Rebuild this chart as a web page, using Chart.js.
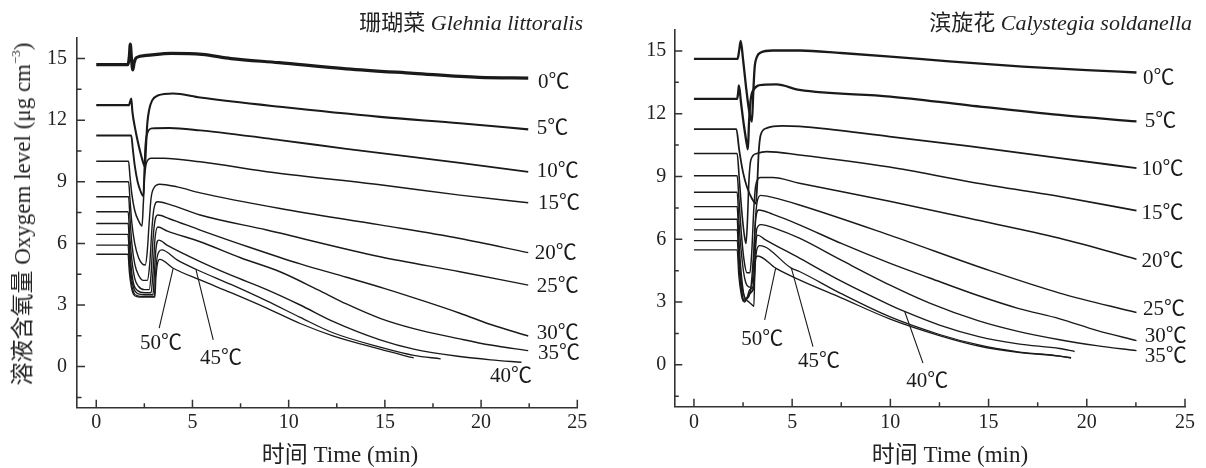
<!DOCTYPE html>
<html><head><meta charset="utf-8">
<script src="https://cdn.jsdelivr.net/npm/chart.js@4"></script>
<style>
html,body{margin:0;padding:0;background:#fff;}
body{width:1206px;height:468px;overflow:hidden;position:relative;font-family:'Liberation Serif','Noto Sans CJK SC',serif;color:#222;}
.panel{position:absolute;top:0;width:603px;height:468px;}
canvas{position:absolute;left:0;top:0;}
.txt{position:absolute;white-space:nowrap;font-size:22px;line-height:26px;}
.ax{font-size:23px;}
sup{font-size:13px;vertical-align:10px;line-height:0;}
</style></head><body>
<div class="panel" style="left:0"><canvas id="c1" width="603" height="468"></canvas></div>
<div class="panel" style="left:603px"><canvas id="c2" width="603" height="468"></canvas></div>
<div class="txt" style="right:623px;top:10px">珊瑚菜 <i>Glehnia littoralis</i></div>
<div class="txt" style="right:14px;top:10px">滨旋花 <i>Calystegia soldanella</i></div>
<div class="txt ax" style="left:340px;top:442px;transform:translateX(-50%)">时间 Time (min)</div>
<div class="txt ax" style="left:950px;top:442px;transform:translateX(-50%)">时间 Time (min)</div>
<div class="txt ax" style="left:23px;top:214px;transform:translate(-50%,-50%) rotate(-90deg)">溶液含氧量 Oxygem level (μg cm<sup>−3</sup>)</div>
<script>
// ---- axis ticks ----
const xMajor = [0,5,10,15,20,25];
const xMinor = [2.5,7.5,12.5,17.5,22.5];
const yMajor = [0,3,6,9,12,15];
const yMinor = [-1.5,1.5,4.5,7.5,10.5,13.5];
const temps = ['0℃','5℃','10℃','15℃','20℃','25℃','30℃','35℃','40℃','45℃','50℃'];

// ---- Glehnia littoralis (left) : [time min, O2 µg/cm3] ----
const gl0  = [[0,14.7],[1.65,14.7],[1.72,15.1],[1.77,15.7],[1.83,15.0],[1.9,14.45],[1.97,14.8],[2.1,15.05],[2.6,15.15],[3.9,15.25],[5.5,15.2],[7,15.0],[9.5,14.8],[13,14.5],[16.5,14.28],[19.9,14.08],[22.45,14.05]];
const gl5  = [[0,12.73],[1.7,12.73],[1.76,12.9],[1.82,13.05],[1.88,12.4],[2.0,11.7],[2.15,11.0],[2.3,10.4],[2.45,9.9],[2.53,9.73],[2.58,10.6],[2.65,11.8],[2.75,12.5],[2.9,12.95],[3.2,13.2],[4.0,13.3],[5.4,13.1],[9.55,12.65],[14.75,12.16],[18.9,11.85],[22.45,11.55]];
const gl10 = [[0,11.25],[1.82,11.25],[1.9,10.6],[2.0,9.8],[2.15,9.0],[2.3,8.55],[2.45,8.3],[2.5,9.5],[2.56,10.8],[2.65,11.35],[2.9,11.6],[3.8,11.62],[5.4,11.5],[9.55,11.03],[13,10.6],[16.5,10.2],[18.9,9.92],[22.45,9.48]];
const gl15 = [[0,10.0],[1.68,10.0],[1.75,9.3],[1.85,8.4],[2.0,7.6],[2.2,7.1],[2.38,6.85],[2.45,8.0],[2.52,9.3],[2.62,9.95],[2.85,10.15],[3.5,10.15],[5.4,9.97],[9.2,9.45],[14.75,8.85],[18.9,8.35],[22.45,7.98]];
const gl20 = [[0,9.0],[1.68,9.0],[1.75,8.2],[1.85,7.0],[2.0,6.0],[2.2,5.3],[2.4,5.0],[2.55,4.95],[2.65,5.6],[2.75,7.0],[2.85,8.2],[3.0,8.7],[3.3,8.88],[4.2,8.75],[5.4,8.46],[9.55,7.7],[14.75,6.9],[18.9,6.24],[22.45,5.55]];
const gl25 = [[0,8.27],[1.68,8.27],[1.75,7.3],[1.85,6.0],[2.0,5.0],[2.2,4.45],[2.45,4.2],[2.65,4.2],[2.78,5.0],[2.9,6.8],[3.0,7.7],[3.2,8.03],[3.8,7.9],[5.4,7.38],[8.86,6.65],[14.75,5.35],[18.9,4.62],[22.45,3.97]];
const gl30 = [[0,7.54],[1.66,7.54],[1.73,6.5],[1.85,5.2],[2.0,4.3],[2.2,3.9],[2.5,3.75],[2.75,3.75],[2.85,4.5],[2.95,6.2],[3.05,7.1],[3.2,7.38],[3.8,7.2],[5.4,6.65],[8,5.8],[10.6,5.0],[13,4.35],[15,3.8],[17,3.2],[18.9,2.6],[20.5,2.05],[22.45,1.49]];
const gl35 = [[0,6.97],[1.66,6.97],[1.72,6.0],[1.82,4.8],[1.95,4.0],[2.15,3.7],[2.5,3.6],[2.85,3.6],[2.95,4.6],[3.05,6.2],[3.2,6.8],[3.7,6.6],[5.4,6.08],[7.5,5.3],[9.55,4.62],[11.5,3.75],[13,3.05],[14.75,2.35],[16.5,1.85],[18.9,1.35],[20.5,1.05],[22.45,0.78]];
const gl40 = [[0,6.44],[1.65,6.44],[1.72,5.5],[1.82,4.4],[1.95,3.8],[2.15,3.55],[2.5,3.5],[2.95,3.5],[3.02,4.5],[3.1,5.7],[3.25,6.16],[3.7,5.9],[5.4,5.11],[7,4.45],[8.86,3.75],[10.6,3.0],[12.3,2.2],[14.75,1.3],[16.5,0.85],[18.9,0.49],[20.5,0.33],[22.1,0.21]];
const gl45 = [[0,5.92],[1.65,5.92],[1.72,5.0],[1.82,4.1],[1.95,3.6],[2.15,3.45],[2.5,3.42],[3.02,3.42],[3.08,4.5],[3.18,5.4],[3.4,5.68],[4.2,5.2],[5.18,4.74],[7,4.0],[8.86,3.2],[10.6,2.4],[12.3,1.65],[14.75,0.95],[16.5,0.55],[17.9,0.38]];
const gl50 = [[0,5.47],[1.65,5.47],[1.72,4.6],[1.82,3.9],[1.95,3.5],[2.15,3.4],[2.5,3.38],[3.05,3.38],[3.1,4.3],[3.18,5.0],[3.3,5.22],[4.0,4.79],[5.4,4.22],[7,3.6],[8.86,2.85],[10.6,2.1],[12.3,1.5],[14.75,0.85],[16.5,0.42]];

// ---- Calystegia soldanella (right) ----
const cs0  = [[0,14.62],[2.22,14.62],[2.3,15.0],[2.38,15.48],[2.5,14.6],[2.65,13.3],[2.8,12.2],[2.95,11.62],[3.02,13.0],[3.09,14.2],[3.2,14.7],[3.4,14.92],[4.0,15.02],[5.4,15.02],[7.5,14.9],[10,14.73],[13,14.5],[16.74,14.25],[20,14.08],[22.53,13.97]];
const cs5  = [[0,12.71],[2.2,12.71],[2.25,13.0],[2.29,13.35],[2.4,12.5],[2.55,11.4],[2.7,10.5],[2.75,10.3],[2.8,11.5],[2.88,12.6],[3.0,13.1],[3.5,13.38],[4.2,13.4],[5.37,13.14],[10,12.82],[14,12.4],[18.62,11.94],[22.53,11.63]];
const cs10 = [[0,11.26],[2.16,11.26],[2.3,10.3],[2.5,9.2],[2.7,8.5],[2.95,7.95],[3.15,7.7],[3.22,8.6],[3.3,10.2],[3.4,11.0],[3.7,11.31],[4.5,11.42],[5.37,11.39],[9.96,10.91],[14,10.45],[18.62,9.88],[22.53,9.40]];
const cs15 = [[0,10.1],[2.2,10.1],[2.3,9.0],[2.42,7.5],[2.55,6.3],[2.65,5.8],[2.72,6.8],[2.8,8.8],[2.9,9.8],[3.2,10.1],[3.7,10.19],[5.37,10.03],[9.96,9.45],[14,8.75],[18.62,8.04],[22.53,7.37]];
const cs20 = [[0,9.03],[2.2,9.03],[2.3,7.8],[2.42,6.2],[2.55,5.0],[2.7,4.4],[2.85,4.4],[2.95,5.5],[3.05,7.5],[3.15,8.6],[3.4,8.95],[4.0,8.95],[5.37,8.68],[9.96,7.82],[14,7.0],[18.62,6.05],[22.53,5.05]];
const cs25 = [[0,8.25],[2.2,8.25],[2.28,7.0],[2.4,5.5],[2.55,4.3],[2.7,3.8],[2.9,3.7],[3.02,4.5],[3.12,6.8],[3.22,7.8],[3.4,8.1],[4.0,8.0],[5.37,7.64],[9.96,6.2],[15.07,4.5],[18.62,3.43],[22.53,2.5]];
const cs30 = [[0,7.56],[2.2,7.56],[2.27,6.3],[2.37,4.8],[2.5,3.6],[2.6,3.15],[2.75,3.2],[2.9,3.7],[3.05,5.5],[3.15,7.0],[3.3,7.4],[4.0,7.2],[5.37,6.69],[7.5,5.8],[9.96,4.86],[12,4.15],[14.5,3.3],[16.5,2.7],[18.62,2.2],[20.5,1.65],[22.53,1.16]];
const cs35 = [[0,6.96],[2.2,6.96],[2.27,5.6],[2.37,4.2],[2.47,3.3],[2.58,3.0],[2.7,3.2],[2.85,3.6],[3.05,3.8],[3.12,5.5],[3.2,6.5],[3.4,6.7],[4.2,6.5],[5.37,6.05],[7.5,5.0],[9.96,3.82],[12,2.95],[14.5,2.1],[16.5,1.6],[18.62,1.2],[20.5,0.92],[22.53,0.68]];
const cs40 = [[0,6.45],[2.2,6.45],[2.3,5.0],[2.45,3.7],[2.6,3.2],[2.8,3.0],[2.98,2.85],[3.05,2.8],[3.1,4.5],[3.15,5.8],[3.25,6.2],[3.6,6.0],[5.37,5.10],[7.5,4.0],[9.96,2.87],[10.72,2.55],[12.5,1.9],[14.5,1.35],[16.5,1.0],[18.62,0.78],[19.38,0.64]];
const cs45 = [[0,5.94],[2.2,5.94],[2.3,4.6],[2.42,3.5],[2.55,3.1],[2.7,3.2],[2.9,3.5],[3.05,3.65],[3.12,4.8],[3.2,5.5],[3.35,5.7],[4.96,4.62],[5.37,4.46],[7.5,3.4],[9.96,2.3],[12.5,1.45],[14.5,0.95],[16.5,0.62],[18.62,0.42],[19.2,0.32]];
const cs50 = [[0,5.49],[2.2,5.49],[2.28,4.3],[2.4,3.4],[2.5,3.05],[2.65,3.1],[2.85,3.4],[3.0,3.6],[3.08,4.6],[3.15,5.1],[3.25,5.2],[4.16,4.62],[5.37,4.06],[7.5,3.2],[9.96,2.2],[12.5,1.4],[14.5,0.9],[16.5,0.6],[18.62,0.42],[19.2,0.34]];

// ---- curve labels [text, x, y] and leader lines [x1,y1,x2,y2] in data units ----
const glLabels = [['0℃',22.96,13.85],['5℃',22.89,11.6],['10℃',22.89,9.48],['15℃',22.96,7.95],['20℃',22.79,5.51],['25℃',22.89,3.89],['30℃',22.89,1.62],['35℃',22.96,0.65],['40℃',20.46,-0.49],['50℃',2.28,1.14],['45℃',5.39,0.41]];
const glLeaders = [[3.27,1.87,4.0,4.79],[6.08,1.30,5.18,4.74]];
const csLabels = [['0℃',22.86,13.7],['5℃',22.95,11.63],['10℃',22.78,9.32],['15℃',22.78,7.25],['20℃',22.78,4.94],['25℃',22.86,2.63],['30℃',22.95,1.35],['35℃',22.95,0.40],['40℃',10.81,-0.8],['50℃',2.41,1.19],['45℃',5.3,0.16]];
const csLeaders = [[11.66,0.08,10.73,2.55],[3.6,2.15,4.16,4.62],[6.06,0.87,4.96,4.62]];

const glSeries = [gl0,gl5,gl10,gl15,gl20,gl25,gl30,gl35,gl40,gl45,gl50];
const csSeries = [cs0,cs5,cs10,cs15,cs20,cs25,cs30,cs35,cs40,cs45,cs50];
const glWidths = [3.2,2.1,1.9,1.5,1.4,1.4,1.4,1.4,1.4,1.3,1.3];
const csWidths = [2.3,2.3,1.8,1.6,1.5,1.4,1.4,1.4,1.4,1.3,1.3];

const FONT = "'Liberation Serif','Noto Sans CJK SC',serif";
const INK = '#1a1a1a';

const tickPlugin = {
  id: 'inwardTicks',
  afterDraw(chart) {
    const {ctx, chartArea: a} = chart;
    const x = chart.scales.x, y = chart.scales.y;
    ctx.save();
    ctx.strokeStyle = '#333'; ctx.lineWidth = 1.5;
    ctx.beginPath();
    xMajor.forEach(v => { const p = x.getPixelForValue(v); ctx.moveTo(p, a.bottom); ctx.lineTo(p, a.bottom - 8); });
    xMinor.forEach(v => { const p = x.getPixelForValue(v); ctx.moveTo(p, a.bottom); ctx.lineTo(p, a.bottom - 4.5); });
    yMajor.forEach(v => { const p = y.getPixelForValue(v); ctx.moveTo(a.left, p); ctx.lineTo(a.left + 8, p); });
    yMinor.forEach(v => { const p = y.getPixelForValue(v); ctx.moveTo(a.left, p); ctx.lineTo(a.left + 4.5, p); });
    ctx.stroke();
    ctx.restore();
  }
};

const labelPlugin = {
  id: 'tempLabels',
  afterDraw(chart, args, opts) {
    const {ctx} = chart;
    const x = chart.scales.x, y = chart.scales.y;
    ctx.save();
    ctx.strokeStyle = INK; ctx.lineWidth = 1.1;
    ctx.beginPath();
    (opts.leaders || []).forEach(l => {
      ctx.moveTo(x.getPixelForValue(l[0]), y.getPixelForValue(l[1]));
      ctx.lineTo(x.getPixelForValue(l[2]), y.getPixelForValue(l[3]));
    });
    ctx.stroke();
    ctx.fillStyle = INK;
    ctx.font = "21px " + FONT;
    ctx.textAlign = 'left'; ctx.textBaseline = 'middle';
    (opts.labels || []).forEach(l => ctx.fillText(l[0], x.getPixelForValue(l[1]), y.getPixelForValue(l[2])));
    ctx.restore();
  }
};

function makePanel(id, series, widths, labels, leaders, box) {
  new Chart(document.getElementById(id), {
    type: 'line',
    data: {
      datasets: series.map((s, i) => ({
        label: temps[i], data: s, borderColor: INK, borderWidth: widths[i],
        pointRadius: 0, fill: false, cubicInterpolationMode: 'monotone'
      }))
    },
    options: {
      responsive: false, animation: false, events: [],
      layout: {padding: {left: 0, top: box.top, right: 603 - box.right, bottom: 0}},
      plugins: {legend: {display: false}, tooltip: {enabled: false},
        tempLabels: {labels: labels, leaders: leaders}},
      scales: {
        x: {type: 'linear', min: -1, max: 25,
          afterBuildTicks: s => { s.ticks = xMajor.map(v => ({value: v})); },
          afterFit: s => { s.height = 468 - box.bottom; },
          grid: {display: false, drawTicks: false},
          border: {display: true, color: '#333', width: 1.6},
          ticks: {autoSkip: false, maxRotation: 0, padding: box.xpad, color: '#222', font: {family: FONT, size: 20}}},
        y: {type: 'linear', min: -2, max: 16,
          afterBuildTicks: s => { s.ticks = yMajor.map(v => ({value: v})); },
          afterFit: s => { s.width = box.left; },
          grid: {display: false, drawTicks: false},
          border: {display: true, color: '#333', width: 1.6},
          ticks: {autoSkip: false, padding: box.ypad, color: '#222', font: {family: FONT, size: 20}}}
      }
    },
    plugins: [tickPlugin, labelPlugin]
  });
}

makePanel('c1', glSeries, glWidths, glLabels, glLeaders, {left: 77, right: 577.3, top: 38, bottom: 407.7, xpad: 3, ypad: 10});
makePanel('c2', csSeries, csWidths, csLabels, csLeaders, {left: 71.3, right: 582, top: 30, bottom: 406.7, xpad: 4, ypad: 8});
</script>
</body></html>
